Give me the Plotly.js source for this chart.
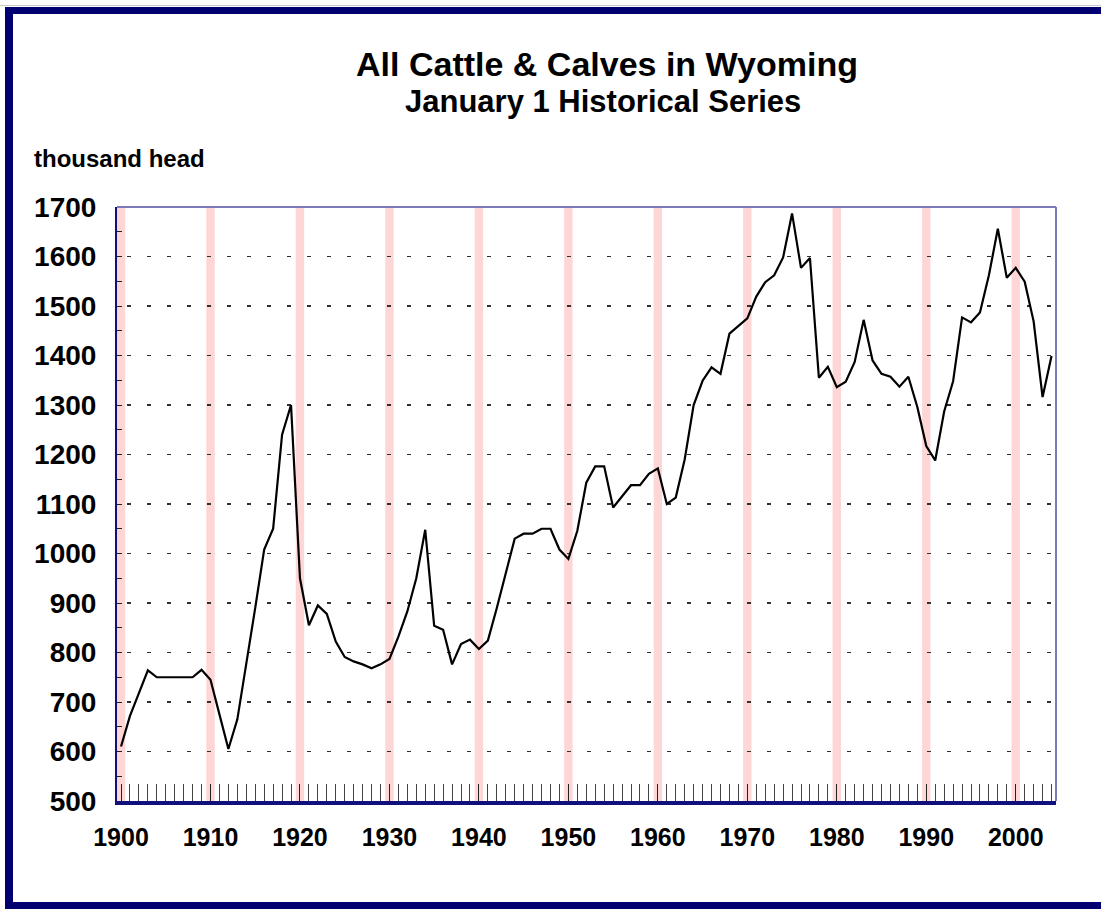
<!DOCTYPE html>
<html>
<head>
<meta charset="utf-8">
<script src="https://cdn.plot.ly/plotly-3.0.1.min.js"></script>
<style>
  html, body { margin: 0; padding: 0; background: #ffffff; }
  #chart { width: 1101px; height: 909px; }
</style>
</head>
<body>
<div id="chart"></div>
<script>
// ---- Data ----
const years = [];
for (let y = 1900; y <= 2004; y++) years.push(y);

const cattle = [
  610, 672, 718, 764, 750, 750, 750, 750, 750, 765,   // 1900-1909
  745, 675, 605, 665, 775, 890, 1008, 1050, 1240, 1300, // 1910-1919
  950, 855, 895, 878, 822, 791, 782, 776, 768, 776,   // 1920-1929
  787, 832, 883, 950, 1048, 854, 846, 776, 817, 826,  // 1930-1939
  807, 824, 890, 963, 1030, 1040, 1040, 1050, 1050, 1008, // 1940-1949
  989, 1046, 1143, 1176, 1176, 1093, 1116, 1138, 1138, 1161, // 1950-1959
  1172, 1100, 1113, 1190, 1300, 1349, 1376, 1363, 1444, 1459, // 1960-1969
  1475, 1519, 1548, 1562, 1598, 1687, 1577, 1597, 1355, 1377, // 1970-1979
  1336, 1347, 1387, 1472, 1390, 1363, 1357, 1337, 1357, 1296, // 1980-1989
  1217, 1188, 1287, 1348, 1477, 1467, 1487, 1562, 1656, 1557, // 1990-1999
  1577, 1549, 1469, 1316, 1399                          // 2000-2004
];

const decades = [1900, 1910, 1920, 1930, 1940, 1950, 1960, 1970, 1980, 1990, 2000];
const yTickVals = [500, 600, 700, 800, 900, 1000, 1100, 1200, 1300, 1400, 1500, 1600, 1700];

const titleText = "All Cattle & Calves in Wyoming";
const subtitleText = "January 1 Historical Series";
const unitText = "thousand head";

// ---- Layout geometry (pixels) ----
const W = 1101, H = 909;
const L = 117, R = 1056, T = 207, B = 801;
const pw = R - L, ph = B - T;
const px = x => (x - L) / pw;      // pixel -> paper x
const py = y => (B - y) / ph;      // pixel -> paper y

const FONT = "Liberation Sans, Arial, Helvetica, sans-serif";

const shapes = [];
// decade bands
decades.forEach(d => {
  shapes.push({
    type: 'rect', xref: 'x', yref: 'y', layer: 'below',
    x0: d - 0.47, x1: d + 0.47, y0: 500, y1: 1700,
    fillcolor: 'rgba(255,120,120,0.30)', line: { width: 0 }
  });
});
// top & right plot border
shapes.push({ type: 'line', xref: 'paper', yref: 'paper', x0: 0, x1: 1, y0: 1, y1: 1,
  line: { color: '#7a7ab8', width: 2 } });
shapes.push({ type: 'line', xref: 'paper', yref: 'paper', x0: 1, x1: 1, y0: 0, y1: 1,
  line: { color: '#7a7ab8', width: 2 } });
// outer navy frame
const navy = '#000070';
shapes.push({ type: 'line', xref: 'paper', yref: 'paper', x0: px(0), x1: px(W), y0: py(5.5), y1: py(5.5),
  line: { color: '#c8c8c8', width: 1 } });
shapes.push({ type: 'rect', xref: 'paper', yref: 'paper', x0: px(5), x1: px(W + 2), y0: py(7), y1: py(14),
  fillcolor: navy, line: { width: 0 } });
shapes.push({ type: 'rect', xref: 'paper', yref: 'paper', x0: px(5), x1: px(13), y0: py(7), y1: py(H + 2),
  fillcolor: navy, line: { width: 0 } });
shapes.push({ type: 'rect', xref: 'paper', yref: 'paper', x0: px(5), x1: px(W + 2), y0: py(902), y1: py(H + 2),
  fillcolor: navy, line: { width: 0 } });

const trace = {
  type: 'scatter', mode: 'lines',
  x: years, y: cattle,
  line: { color: '#000000', width: 2.2 },
  hoverinfo: 'x+y'
};

const layout = {
  width: W, height: H,
  margin: { l: L, r: W - R, t: T, b: H - B, pad: 0 },
  paper_bgcolor: '#ffffff', plot_bgcolor: '#ffffff',
  showlegend: false,
  font: { family: FONT, color: '#000000' },
  title: {
    text: titleText,
    font: { family: FONT, size: 34, weight: 700, color: '#000000' },
    xref: 'container', yref: 'container',
    x: 607 / W, xanchor: 'center',
    y: 1 - 64 / H, yanchor: 'middle'
  },
  xaxis: {
    range: [1899.55, 2004.5],
    tickmode: 'array', tickvals: decades,
    tickformat: 'd',
    ticks: 'inside', ticklen: 17, tickwidth: 1, tickcolor: '#222',
    minor: { dtick: 1, tick0: 1900, ticks: 'inside', ticklen: 17, tickwidth: 1, tickcolor: '#444', showgrid: false },
    tickfont: { family: FONT, size: 25, weight: 700, color: '#000' },
    ticklabelstandoff: 11,
    showgrid: false, zeroline: false,
    showline: true, linecolor: '#10107a', linewidth: 4
  },
  yaxis: {
    range: [500, 1700],
    tickmode: 'array', tickvals: yTickVals,
    tickformat: 'd',
    ticks: 'inside', ticklen: 5, tickwidth: 1, tickcolor: '#222',
    minor: { dtick: 50, tick0: 500, ticks: 'inside', ticklen: 5, tickwidth: 1, tickcolor: '#222', showgrid: false },
    tickfont: { family: FONT, size: 28, weight: 700, color: '#000' },
    ticklabelstandoff: 13,
    showgrid: true, gridcolor: '#303030', gridwidth: 1.3, griddash: '0px,9.7px,4px,6.3px',
    zeroline: false,
    showline: true, linecolor: '#10107a', linewidth: 2
  },
  annotations: [
    {
      text: subtitleText, xref: 'paper', yref: 'paper',
      x: px(603), xanchor: 'center', y: py(101), yanchor: 'middle',
      showarrow: false,
      font: { family: FONT, size: 31, weight: 700, color: '#000' }
    },
    {
      text: unitText, xref: 'paper', yref: 'paper',
      x: px(32), xanchor: 'left', y: py(159), yanchor: 'middle',
      showarrow: false,
      font: { family: FONT, size: 24, weight: 700, color: '#000' }
    }
  ],
  shapes: shapes
};

Plotly.newPlot('chart', [trace], layout, { displayModeBar: false, staticPlot: true });
</script>
</body>
</html>
